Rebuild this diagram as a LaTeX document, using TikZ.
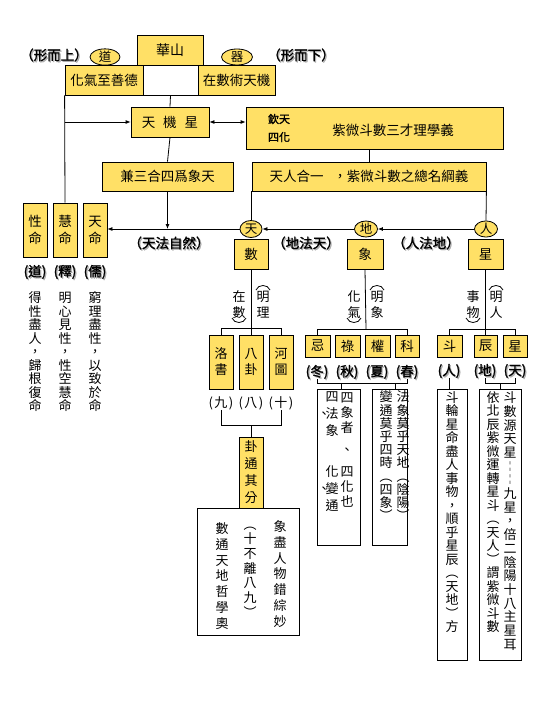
\documentclass[tikz,border=0pt]{standalone}
\usepackage{fontspec}
\setmainfont{Noto Sans CJK TC}
\newfontfamily\bfcjk[FakeBold=1.5]{Noto Sans CJK TC}
\usetikzlibrary{arrows.meta,shapes.geometric}
\definecolor{boxyellow}{RGB}{255,224,102}
\definecolor{shadowgray}{RGB}{175,175,175}
\newcommand{\rbox}[7]{\node[#1,minimum width={(#5)-(#3)},minimum height={(#6)-(#4)}] (#2) at ({((#3)+(#5))/2},{((#4)+(#6))/2}) {#7};}
\newcommand{\shlabel}[4]{\node[shtext,text=shadowgray] (#1s) at ({(#2)+1.2},{(#3)+1.2}) {#4};\node[shtext] (#1) at (#2,#3) {#4};}
\newcommand{\tstr}{\rule{0pt}{11pt}}
\newcommand{\bstr}{\rule[-2.5pt]{0pt}{2.5pt}}
\begin{document}
\begin{tikzpicture}[x=1pt,y=-1pt,
  ybox/.style={draw=black,line width=0.8pt,fill=boxyellow,inner sep=0pt,align=center,font=\fontsize{13.5}{16}\selectfont},
  wbox/.style={draw=black,line width=0.8pt,fill=white,inner sep=0pt},
  ell/.style={ellipse,draw=black,line width=0.8pt,fill=boxyellow,inner sep=0pt,font=\fontsize{12.5}{14}\selectfont},
  conn/.style={line width=0.8pt},
  arr/.style={conn,-{Latex[length=5pt,width=4pt]}},
  darr/.style={conn,{Latex[length=5pt,width=4pt]}-{Latex[length=5pt,width=4pt]}},
  shtext/.style={inner sep=0pt,font=\bfcjk\fontsize{13.5}{16}\selectfont},
  ptext/.style={inner sep=0pt,font=\fontsize{13}{16}\selectfont},
  vcol/.style={inner sep=0pt,align=center},
  v135/.style={vcol,font=\fontsize{13}{13.5}\selectfont},
]
\fill[white] (0,0) rectangle (540,720);
\useasboundingbox (0,0) rectangle (540,720);

% ---- top ----
\shlabel{xsh}{54}{55}{（形而上）}
\shlabel{xxia}{301}{55}{（形而下）}
\node[ell,minimum width=30pt,minimum height=16pt] (dao) at (105,57) {道};
\node[ell,minimum width=31pt,minimum height=16pt] (qi) at (237,57) {器};
\rbox{wbox}{blank}{143}{65}{198}{95}{}
\rbox{ybox,font=\fontsize{14}{16}\selectfont}{hs}{137}{35}{203}{65}{華山}
\rbox{ybox}{hqz}{65}{65}{143}{95}{化氣至善德}
\rbox{ybox}{zss}{198}{65}{275}{95}{在數術天機}

\rbox{ybox}{tjx}{131}{107}{209}{137}{天\hspace{8pt}機\hspace{8pt}星}
\rbox{ybox}{big}{246}{107}{503}{149}{}
\node[inner sep=0pt,align=center,font=\bfcjk\fontsize{11}{18}\selectfont] (qt) at (279,128) {欽天\\四化};
\node[inner sep=0pt,font=\fontsize{13.5}{16}\selectfont] (zw) at (393,130) {紫微斗數三才理學義};
\rbox{ybox}{jsh}{102}{162}{233}{191}{兼三合四爲象天}
\rbox{ybox}{trhy}{252}{162}{486}{191}{天人合一\hspace{10pt}，紫微斗數之總名綱義}

% ---- left three ----
\rbox{ybox,font=\fontsize{13.5}{17}\selectfont}{xm}{23}{203}{47}{257}{性\\命}
\rbox{ybox,font=\fontsize{13.5}{17}\selectfont}{hm}{53}{203}{77}{257}{慧\\命}
\rbox{ybox,font=\fontsize{13.5}{17}\selectfont}{tm}{83}{203}{107}{257}{天\\命}
\shlabel{ldao}{35}{272}{(道)}
\shlabel{lshi}{65}{272}{(釋)}
\shlabel{lru}{95}{272}{(儒)}
\node[v135] (c1) at (35,352) {得\\性\\盡\\人\\，\\歸\\根\\復\\命};
\node[v135] (c2) at (65,352) {明\\心\\見\\性\\，\\性\\空\\慧\\命};
\node[v135] (c3) at (95,352) {窮\\理\\盡\\性\\，\\以\\致\\於\\命};

% ---- heaven / earth / man ----
\node[ell,minimum width=22pt,minimum height=17pt] (tian) at (251,229) {天};
\node[ell,minimum width=23pt,minimum height=16pt] (di) at (366,229) {地};
\node[ell,minimum width=23pt,minimum height=16pt] (ren) at (486,229) {人};
\shlabel{ltfzr}{169}{243}{（天法自然）}
\shlabel{ldft}{306}{243}{（地法天）}
\shlabel{lrfd}{426}{243}{（人法地）}
\rbox{ybox}{shu}{234}{239}{268}{269}{數}
\rbox{ybox}{xiang}{347}{239}{383}{269}{象}
\rbox{ybox}{xing}{468}{239}{503}{269}{星}

% ---- connectors top part ----
\draw[conn] (blank.south) -- (tjx.north);
\draw[conn] (hqz.south west) -- (hm.north);
\draw[arr] (hqz.south west |- tjx.west) -- (tjx.west);
\draw[darr] (tjx.east) -- (tjx.east -| big.west);
\draw[conn] (tjx.south) -- (jsh.north);
\draw[conn] (big.south -| trhy.north) -- (trhy.north);
\draw[arr] (jsh.south) -- (jsh.south |- tian.west);
\draw[arr] (tian.west) -- (tian.west -| tm.east);
\draw[arr] (di.west) -- (tian.east);
\draw[arr] (ren.west) -- (di.east);
\draw[conn] (trhy.south west) -- (trhy.south west |- tian.north);
\draw[conn] (trhy.south east) -- (ren.north);

% ---- under shu ----
\node[vcol,font=\fontsize{13}{16}\selectfont] (zaishu) at (239,305) {在\\數};
\node[vcol,font=\fontsize{13}{16}\selectfont] (mingli) at (263,305) {明\\理};
\draw[conn] (256,290) .. controls (258,284) and (268,284) .. (270,290);
\draw[conn] (232,318) .. controls (234,324) and (244,324) .. (246,318);
\rbox{ybox,font=\fontsize{13}{16}\selectfont}{lsh}{209}{335}{233}{389}{洛\\書}
\rbox{ybox,font=\fontsize{13}{16}\selectfont}{bg}{239}{335}{263}{389}{八\\卦}
\rbox{ybox,font=\fontsize{13}{16}\selectfont}{htu}{269}{335}{293}{389}{河\\圖}
\draw[conn] (shu.south) -- (bg.north);
\draw[conn] (lsh.north) -- ++(0,-6) -| (htu.north);
\node[ptext] (jiu) at (221,403) {(\hspace{1.5pt}九\hspace{1.5pt})};
\node[ptext] (ba) at (251,403) {(\hspace{1.5pt}八\hspace{1.5pt})};
\node[ptext] (shi) at (281,403) {(\hspace{1.5pt}十\hspace{1.5pt})};
\rbox{ybox,font=\fontsize{13}{17}\selectfont}{gt}{239}{437}{263}{508}{卦\\通\\其\\分}
\coordinate (b1) at (251,425);
\draw[conn] (jiu.south) -- (jiu.south |- b1) -- (shi.south |- b1) -- (shi.south);
\draw[conn] (b1) -- (gt.north);
\rbox{wbox}{tb1}{197}{508}{299}{635}{}
\node[vcol,font=\fontsize{13}{15.7}\selectfont] (t1a) at (280,574) {象\\盡\\人\\物\\錯\\綜\\妙};
\node[vcol,font=\fontsize{13}{14.7}\selectfont] (t1b) at (250,569) {\tstr︵\\十\\不\\離\\八\\九\\︶\bstr};
\node[vcol,font=\fontsize{13}{15.7}\selectfont] (t1c) at (222,576) {數\\通\\天\\地\\哲\\學\\奧};

% ---- under xiang ----
\node[vcol,font=\fontsize{13}{16}\selectfont] (huaqi) at (354,305) {化\\氣};
\node[vcol,font=\fontsize{13}{16}\selectfont] (mingx) at (377,305) {明\\象};
\draw[conn] (370,290) .. controls (372,284) and (382,284) .. (384,290);
\draw[conn] (347,318) .. controls (349,324) and (359,324) .. (361,318);
\rbox{ybox}{ji}{305}{335}{330}{357}{忌}
\rbox{ybox}{lu}{335}{335}{360}{357}{祿}
\rbox{ybox}{quan}{365}{335}{390}{357}{權}
\rbox{ybox}{ke}{395}{335}{419}{357}{科}
\coordinate (b2) at (366,329);
\draw[conn] (xiang.south) -- (b2);
\draw[conn] (ji.north) -- (ji.north |- b2) -- (ke.north |- b2) -- (ke.north);
\shlabel{ldong}{317}{372}{(冬)}
\shlabel{lqiu}{347}{372}{(秋)}
\shlabel{lxia}{377}{372}{(夏)}
\shlabel{lchun}{407}{372}{(春)}
\rbox{wbox}{tb2}{317}{389}{360}{545}{}
\rbox{wbox}{tb3}{372}{389}{407}{545}{}
\coordinate (b3) at (341,383);
\coordinate (b3b) at (395,383);
\draw[conn] (ldong.south) -- (ldong.south |- b3) -- (lchun.south |- b3) -- (lchun.south);
\draw[conn] (b3) -- (b3 |- tb2.north);
\draw[conn] (b3b) -- (b3b |- tb3.north);
\node[vcol,font=\fontsize{13}{15}\selectfont] (t2a) at (347,450) {四\\象\\者\\[7pt]、\\[7pt]四\\化\\也};
\node[vcol,font=\fontsize{13}{17}\selectfont] (t2b) at (332,452) {四\\\llap{、\hspace{-5pt}}法\\象\\[24pt]化\\\llap{、\hspace{-5pt}}變\\通};
\node[vcol,font=\fontsize{13}{13.2}\selectfont] (t3a) at (403,457) {\tstr 法\\象\\莫\\乎\\天\\地\\︵\\陰\\陽\\︶\bstr};
\node[vcol,font=\fontsize{13}{13.2}\selectfont] (t3b) at (386,457) {\tstr 變\\通\\莫\\乎\\四\\時\\︵\\四\\象\\︶\bstr};

% ---- under xing ----
\node[vcol,font=\fontsize{13}{16}\selectfont] (shiwu) at (473,305) {事\\物};
\node[vcol,font=\fontsize{13}{16}\selectfont] (mingr) at (496,305) {明\\人};
\draw[conn] (489,290) .. controls (491,284) and (501,284) .. (503,290);
\draw[conn] (466,318) .. controls (468,324) and (478,324) .. (480,318);
\rbox{ybox}{dou}{437}{335}{462}{357}{斗}
\rbox{ybox}{chen}{474}{335}{497}{357}{辰}
\rbox{ybox}{xing2}{503}{335}{527}{357}{星}
\coordinate (b4) at (486,329);
\draw[conn] (xing.south) -- (chen.north);
\draw[conn] (dou.north) -- (dou.north |- b4) -- (xing2.north |- b4) -- (xing2.north);
\shlabel{lren}{449}{371}{(人)}
\shlabel{ldi}{485}{371}{(地)}
\shlabel{ltian}{515}{371}{(天)}
\rbox{wbox}{tb4}{437}{389}{467}{660}{}
\rbox{wbox}{tb5}{479}{389}{521}{660}{}
\draw[conn] (lren.south) -- (lren.south |- tb4.north);
\coordinate (b5) at (500,383);
\draw[conn] (ldi.south) -- (ldi.south |- b5) -- (ltian.south |- b5) -- (ltian.south);
\draw[conn] (b5) -- (tb5.north);
\node[v135] (t4) at (452,512) {斗\\輪\\星\\命\\盡\\人\\事\\物\\，\\順\\乎\\星\\辰\\︵\\天\\地\\︶\\方};
\node[vcol,font=\fontsize{13}{13.7}\selectfont] (t5a) at (510,521) {斗\\數\\源\\天\\星\\╎\\╎\\九\\星\\，\\倍\\二\\陰\\陽\\十\\八\\主\\星\\耳};
\node[v135] (t5b) at (493,512) {依\\北\\辰\\紫\\微\\運\\轉\\星\\斗\\︵\\天\\人\\︶\\謂\\紫\\微\\斗\\數};
\end{tikzpicture}
\end{document}
